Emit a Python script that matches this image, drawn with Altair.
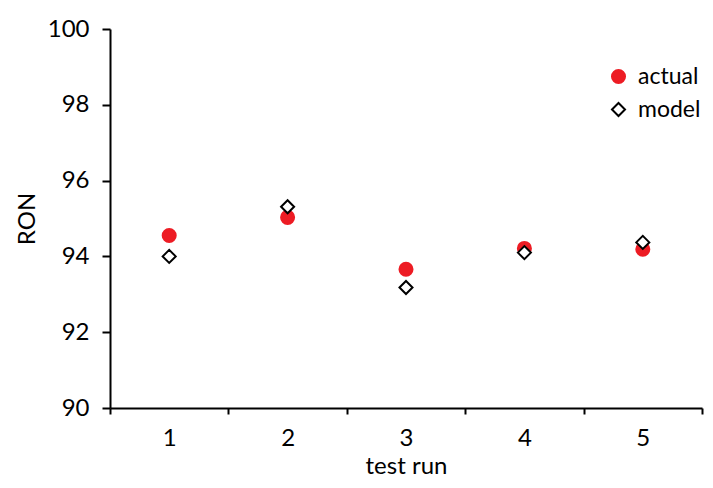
import altair as alt
import pandas as pd

runs = [1, 2, 3, 4, 5]
actual = [94.55, 95.03, 93.66, 94.21, 94.19]
model = [94.00, 95.31, 93.18, 94.10, 94.37]
series_names = ["actual", "model"]

df = pd.DataFrame({
    "run": runs + runs,
    "RON": actual + model,
    "series": [series_names[0]] * len(runs) + [series_names[1]] * len(runs),
})

FONT = "Lato"
RED = "#ED1C24"
FS = 24

chart = alt.Chart(df).mark_point(size=170, strokeWidth=2, opacity=1).encode(
    x=alt.X(
        "run:O",
        title="test run",
        scale=alt.Scale(type="band", paddingInner=0, paddingOuter=0),
        axis=alt.Axis(
            tickBand="extent", labelAngle=0, labelFontSize=FS, labelFont=FONT,
            labelColor="black", labelPadding=12, tickSize=6, tickWidth=2,
            tickColor="black", domainColor="black", domainWidth=2,
            titleFontSize=FS, titleFont=FONT, titleFontWeight="normal",
            titleColor="black", titlePadding=4, grid=False,
        ),
    ),
    y=alt.Y(
        "RON:Q",
        title="RON",
        scale=alt.Scale(domain=[90, 100], nice=False, zero=False),
        axis=alt.Axis(
            values=[90, 92, 94, 96, 98, 100], labelFontSize=FS, labelFont=FONT,
            labelColor="black", labelPadding=13, tickSize=8, tickWidth=2,
            tickColor="black", domainColor="black", domainWidth=2,
            titleFontSize=FS, titleFont=FONT, titleFontWeight="normal",
            titleColor="black", titlePadding=8, grid=False,
        ),
    ),
    shape=alt.Shape(
        "series:N",
        scale=alt.Scale(domain=series_names, range=["circle", "diamond"]),
        legend=alt.Legend(
            title=None, orient="none", legendX=497, legendY=36,
            labelFontSize=23, labelFont=FONT, labelColor="black",
            labelOffset=8, rowPadding=9, symbolSize=170,
            symbolStrokeWidth=2, padding=0,
        ),
    ),
    fill=alt.Fill(
        "series:N",
        scale=alt.Scale(domain=series_names, range=[RED, "white"]),
        legend=None,
    ),
    stroke=alt.Stroke(
        "series:N",
        scale=alt.Scale(domain=series_names, range=[RED, "black"]),
        legend=None,
    ),
).properties(
    width=592,
    height=379,
    autosize=alt.AutoSizeParams(type="none"),
    padding={"left": 102, "top": 21, "right": 3, "bottom": 70},
).configure_view(
    stroke=None
)

chart.save("out.html", embed_options={"renderer": "svg", "actions": False})
